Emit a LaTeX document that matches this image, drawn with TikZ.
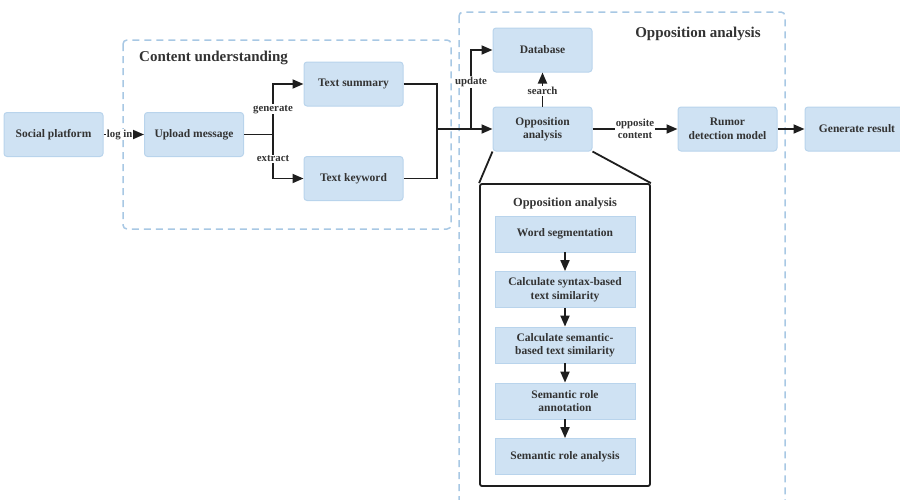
\documentclass[tikz,border=0pt]{standalone}
\usepackage{fontspec}
\setmainfont{Liberation Serif}
\usetikzlibrary{arrows.meta,positioning}
\definecolor{boxfill}{HTML}{CFE2F3}
\definecolor{boxline}{HTML}{B9D4EC}
\definecolor{dashcol}{HTML}{A8C8E4}
\definecolor{txt}{HTML}{333333}
\definecolor{arr}{HTML}{1E1E1E}
\tikzset{
  blk/.style={draw=boxline, line width=1pt, fill=boxfill, rounded corners=3pt,
    minimum width=99pt, minimum height=44pt, align=center, inner sep=1pt,
    text=txt, font=\bfseries\fontsize{11.5}{13.5}\selectfont},
  subblk/.style={draw=boxline, line width=0.8pt, fill=boxfill,
    minimum width=140pt, minimum height=36pt, align=center, inner sep=1pt,
    text=txt, font=\bfseries\fontsize{11.5}{13.5}\selectfont},
  group/.style={draw=dashcol, line width=1.5pt, dash pattern=on 7pt off 5pt, rounded corners=4pt},
  title/.style={text=txt, font=\bfseries\fontsize{15}{17}\selectfont, inner sep=0pt},
  lbl/.style={fill=white, text=txt, font=\bfseries\fontsize{10.8}{12.5}\selectfont, inner sep=1pt, align=center},
  conn/.style={draw=arr, line width=1.8pt},
  arrw/.style={conn, -{Triangle[length=11pt,width=9pt]}},
}
\begin{document}
\begin{tikzpicture}[x=1pt,y=-1pt]
\useasboundingbox (0,0) rectangle (900,499);
% group frames
\draw[group] (123,40) rectangle (451,229);
\draw[group] (459,12) rectangle (785,520);
\node[title, anchor=west] (t1) at (139,58) {Content understanding};
\node[title] (t2) at (698,34) {Opposition analysis};
% main boxes
\node[blk] (social) at (53.5,134.5) {Social platform};
\node[blk] (upload) at (194,134.5) {Upload message};
\node[blk] (summary) at (353.5,84) {Text summary};
\node[blk] (keyword) at (353.5,178.5) {Text keyword};
\node[blk] (db) at (542.5,50) {Database};
\node[blk] (opp) at (542.5,129) {Opposition\\analysis};
\node[blk] (rumor) at (727.5,129) {Rumor\\detection model};
\node[blk, minimum width=104pt] (result) at (857,129) {Generate result};
% junctions
\coordinate (j1) at (273,134.5);
\coordinate (j2) at (437,129);
\coordinate (j3) at (471,129);
% connectors
\draw[arrw] (social) -- node[lbl, inner sep=0.5pt, pos=0.4]{log in} (upload);
\draw[conn] (upload) -- (j1);
\draw[arrw] (j1) -- node[lbl, pos=0.5]{generate} (j1 |- summary) -- (summary);
\draw[arrw] (j1) -- node[lbl, pos=0.55]{extract} (j1 |- keyword) -- (keyword);
\draw[conn] (summary.east) -| (j2);
\draw[conn] (keyword.east) -| (j2);
\draw[arrw] (j2) -- (opp);
\draw[arrw] (j3) -- node[lbl, pos=0.6]{update} (j3 |- db) -- (db);
\draw[arrw] (opp) -- node[lbl, pos=0.45]{search} (db);
\draw[arrw] (opp) -- node[lbl]{opposite\\content} (rumor);
\draw[arrw] (rumor) -- (result);
% detail box
\node[draw=arr, line width=1.8pt, rounded corners=2pt, minimum width=170pt, minimum height=302pt, inner sep=0pt] (detail) at (565,335) {};
\draw[conn] (opp.south west) -- (detail.north west);
\draw[conn] (opp.south east) -- (detail.north east);
\node[text=txt, font=\bfseries\fontsize{12.4}{14}\selectfont] (dtitle) at (565,204) {Opposition analysis};
\node[subblk] (s1) at (565,234) {Word segmentation};
\node[subblk] (s2) at (565,289.5) {Calculate syntax-based\\text similarity};
\node[subblk] (s3) at (565,345) {Calculate semantic-\\based text similarity};
\node[subblk] (s4) at (565,401) {Semantic role\\annotation};
\node[subblk] (s5) at (565,456.5) {Semantic role analysis};
\draw[arrw] (s1) -- (s2);
\draw[arrw] (s2) -- (s3);
\draw[arrw] (s3) -- (s4);
\draw[arrw] (s4) -- (s5);
\end{tikzpicture}
\end{document}
